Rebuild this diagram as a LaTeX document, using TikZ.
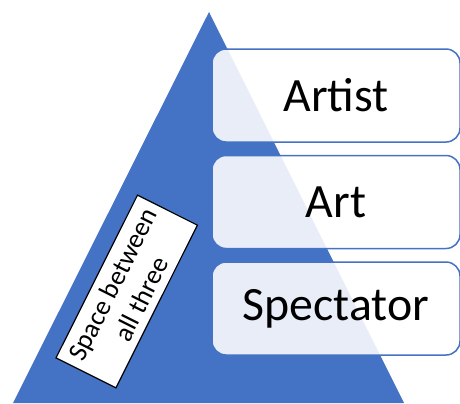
\documentclass[tikz,border=0pt]{standalone}
\usepackage{fontspec}
\setmainfont{Carlito}
\definecolor{pyrblue}{HTML}{4472C4}
\begin{document}
\begin{tikzpicture}[x=1bp,y=-1bp,
  tier/.style={draw=pyrblue,line width=1.5bp,rounded corners=14bp,
    fill=white,fill opacity=0.88,text opacity=1,
    minimum width=248bp,minimum height=93bp,
    font=\fontsize{48}{52}\selectfont}]
\useasboundingbox (0,0) rectangle (460,403);
% piramide
\fill[pyrblue] (13,403) -- (209,12) -- (404,403) -- cycle;
% os tres niveis
\node[tier] (artist) at (336,95.5) {Artist};
\node[tier] (art) at (336,202) {Art};
\node[tier] (spectator) at (336,308.5) {Spectator};
% rotulo inclinado
\node[draw=black,line width=1.2bp,fill=white,rotate=63.4,
  minimum width=182bp,minimum height=67bp,align=center,inner sep=2bp,
  font=\fontsize{27}{32}\selectfont] (space) at (126.7,291.5)
  {Space between\\all three};
\end{tikzpicture}
\end{document}
